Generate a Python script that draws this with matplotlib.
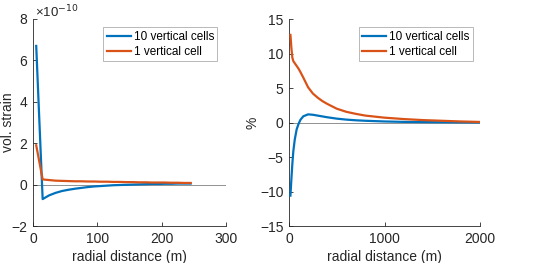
import matplotlib
matplotlib.use("Agg")
import matplotlib.pyplot as plt

plt.rcParams['font.family'] = ['Liberation Sans', 'DejaVu Sans']

# Left panel: volumetric strain (units of 1e-10)
left_r = [5, 15, 25, 35, 45, 55, 65, 75, 85, 95, 105, 115, 125, 135, 145,
          155, 165, 175, 185, 195, 205, 215, 225, 235, 245]
left_10cells = [6.7, -0.70, -0.52, -0.40, -0.31, -0.25, -0.20, -0.16, -0.12, -0.09,
                -0.07, -0.05, -0.03, -0.02, -0.01, 0.0, 0.01, 0.02, 0.03, 0.03,
                0.04, 0.04, 0.05, 0.05, 0.05]
left_1cell = [1.9, 0.25, 0.22, 0.19, 0.18, 0.17, 0.16, 0.16, 0.15, 0.15,
              0.14, 0.14, 0.13, 0.13, 0.12, 0.12, 0.11, 0.11, 0.10, 0.10,
              0.10, 0.09, 0.09, 0.08, 0.08]

# Right panel: percent
right_r = [15, 25, 35, 45, 60, 80, 100, 120, 150, 200, 250, 300, 350, 400, 500,
           600, 700, 800, 1000, 1200, 1400, 1600, 1800, 2000]
right_10cells = [-10.6, -8.2, -6.0, -4.2, -2.5, -1.0, -0.2, 0.4, 0.9, 1.18, 1.12,
                 1.0, 0.88, 0.76, 0.56, 0.42, 0.32, 0.25, 0.15, 0.09, 0.06, 0.04,
                 0.02, 0.01]
right_1cell = [12.7, 10.8, 9.4, 8.9, 8.6, 8.2, 7.8, 7.3, 6.5, 5.1, 4.2, 3.6, 3.1,
               2.7, 2.0, 1.55, 1.25, 1.0, 0.7, 0.5, 0.35, 0.25, 0.15, 0.08]

labels = ['10 vertical cells', '1 vertical cell']
blue = '#0072BD'
orange = '#D95319'

W, H = 538, 263
fig = plt.figure(figsize=(W / 100, H / 100), dpi=100)

def setup(ax, xlim, xticks, ylim, yticks):
    ax.set_xlim(*xlim)
    ax.set_ylim(*ylim)
    ax.set_xticks(xticks)
    ax.set_yticks(yticks)
    for s in ['top', 'right']:
        ax.spines[s].set_visible(False)
    for s in ['left', 'bottom']:
        ax.spines[s].set_color('#262626')
        ax.spines[s].set_linewidth(0.6)
    ax.tick_params(direction='in', length=3, width=0.6, colors='#262626',
                   labelsize=10, labelcolor='#262626', pad=4)
    ax.axhline(0, color='#808080', lw=0.6, zorder=1)

def legend(ax):
    leg = ax.legend(loc='upper left', bbox_to_anchor=(0.365, 0.96), fontsize=8.5,
                    frameon=True, fancybox=False, edgecolor='#999999',
                    handlelength=2.0, handletextpad=0.25, borderpad=0.3,
                    labelspacing=0.25, borderaxespad=0)
    leg.get_frame().set_linewidth(0.6)

ax1 = fig.add_axes([33 / W, 1 - 226 / H, (226 - 33) / W, (226 - 19) / H])
ax1.plot(left_r, left_10cells, color=blue, lw=1.6, label=labels[0], zorder=3)
ax1.plot(left_r, left_1cell, color=orange, lw=1.6, label=labels[1], zorder=3)
setup(ax1, (0, 300), [0, 100, 200, 300], (-2, 8), [-2, 0, 2, 4, 6, 8])
ax1.set_xlabel('radial distance (m)', fontsize=10, color='#262626', labelpad=3)
ax1.set_ylabel('vol. strain', fontsize=10, color='#262626')
ax1.yaxis.set_label_coords(-0.093, 0.5)
ax1.text(0.01, 0.995, '×10$^{-10}$', transform=ax1.transAxes, fontsize=9.5,
         color='#262626', ha='left', va='bottom')
legend(ax1)

ax2 = fig.add_axes([289 / W, 1 - 226 / H, (480 - 289) / W, (226 - 19) / H])
ax2.plot(right_r, right_10cells, color=blue, lw=1.6, label=labels[0], zorder=3)
ax2.plot(right_r, right_1cell, color=orange, lw=1.6, label=labels[1], zorder=3)
setup(ax2, (0, 2000), [0, 1000, 2000], (-15, 15), [-15, -10, -5, 0, 5, 10, 15])
ax2.set_xlabel('radial distance (m)', fontsize=10, color='#262626', labelpad=3)
ax2.set_ylabel('%', fontsize=10, color='#262626')
ax2.yaxis.set_label_coords(-0.152, 0.5)
legend(ax2)

fig.savefig('out.png', dpi=100)
